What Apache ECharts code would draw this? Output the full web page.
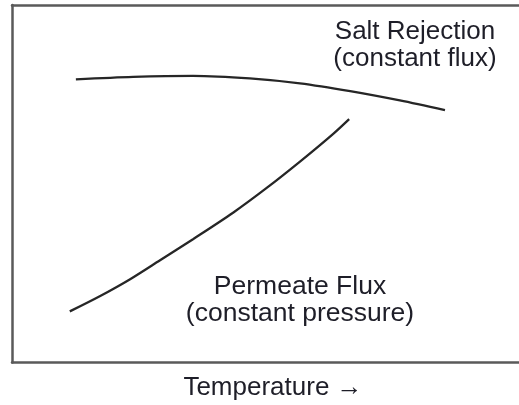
<!DOCTYPE html>
<html>
<head>
<meta charset="utf-8">
<script src="https://cdn.jsdelivr.net/npm/echarts@6/dist/echarts.min.js"></script>
<style>
  html, body { margin: 0; padding: 0; background: #fff; }
  #chart { width: 519px; height: 405px; }
</style>
</head>
<body>
<div id="chart"></div>
<script>
// curves, in 0..100 units on both axes
var saltX = [12.6, 23.9, 35.7, 46.9, 56.8, 66.7, 76.5, 85.4];
var saltY = [79.2, 79.9, 80.2, 79.5, 78.1, 75.9, 73.3, 70.6];
var fluxX = [11.4, 17.4, 23.3, 29.2, 35.7, 43.6, 50.3, 56.8, 63.3, 66.5];
var fluxY = [14.3, 18.6, 23.3, 28.6, 34.5, 41.9, 48.9, 56.2, 63.9, 68.1];

var saltLabel = ['Salt Rejection', '(constant flux)'];
var fluxLabel = ['Permeate Flux', '(constant pressure)'];
var xName = 'Temperature \u2192';

var pairs = function(xs, ys) {
    return xs.map(function(x, i) { return [x, ys[i]]; });
};

var chart = echarts.init(document.getElementById('chart'));
var font = '"Liberation Sans", Arial, sans-serif';
var lineStyle = { color: '#262626', width: 2.3 };
var frame = { show: true, lineStyle: { color: '#5a5a5a', width: 2.5 } };
var hidden = { show: false };

var option = {
    animation: false,
    grid: { left: 12, top: 5, right: 0, bottom: 42.5 },
    xAxis: [
        {
            type: 'value', min: 0, max: 100, position: 'bottom',
            axisLine: frame, axisTick: hidden, axisLabel: hidden, splitLine: hidden
        },
        {
            type: 'value', min: 0, max: 100, position: 'top',
            axisLine: frame, axisTick: hidden, axisLabel: hidden, splitLine: hidden
        }
    ],
    yAxis: {
        type: 'value', min: 0, max: 100,
        axisLine: frame, axisTick: hidden, axisLabel: hidden, splitLine: hidden
    },
    series: [
        {
            name: 'Salt Rejection', type: 'line', smooth: 0.3,
            showSymbol: false, lineStyle: lineStyle,
            data: pairs(saltX, saltY)
        },
        {
            name: 'Permeate Flux', type: 'line', smooth: 0.3,
            showSymbol: false, lineStyle: lineStyle,
            data: pairs(fluxX, fluxY)
        }
    ],
    graphic: [
        {
            type: 'text', x: 415, y: 45.5,
            style: {
                text: saltLabel.join('\n'), font: '26px ' + font, lineHeight: 27,
                fill: '#1e1e28', align: 'center', verticalAlign: 'middle'
            }
        },
        {
            type: 'text', x: 300, y: 300.5,
            style: {
                text: fluxLabel.join('\n'), font: '26.5px ' + font, lineHeight: 27,
                fill: '#1e1e28', align: 'center', verticalAlign: 'middle'
            }
        },
        {
            type: 'text', x: 273, y: 388,
            style: {
                text: xName, font: '26px ' + font,
                fill: '#1e1e28', align: 'center', verticalAlign: 'middle'
            }
        }
    ]
};
chart.setOption(option);
</script>
</body>
</html>
